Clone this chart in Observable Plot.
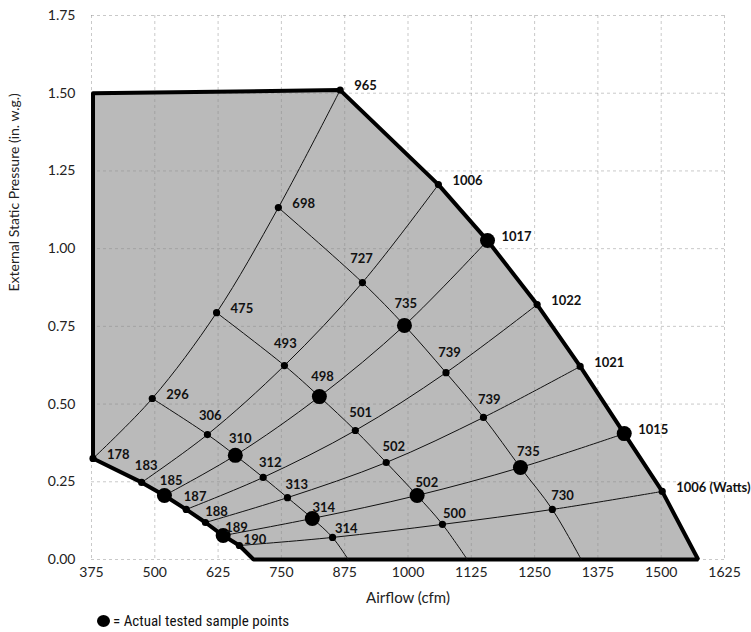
<!DOCTYPE html>
<html>
<head>
<meta charset="utf-8">
<script src="https://cdn.jsdelivr.net/npm/d3@7"></script>
<script src="https://cdn.jsdelivr.net/npm/@observablehq/plot@0.6"></script>
<style>
  body { margin: 0; background: white; }
  #legend { height: 22px; display: flex; align-items: center; margin-left: 97px;
    font: 15px "Liberation Sans Narrow", "Roboto Condensed", "Roboto", sans-serif; color: #111; }
  #legend .dot { width: 13px; height: 12px; border-radius: 50%; background: #000; margin-right: 3px; display: inline-block; }
</style>
</head>
<body>
<div id="chart"></div>
<div id="legend"><span class="dot"></span><span>= Actual tested sample points</span></div>
<script>
// Axis ticks
const xTicks = [375, 500, 625, 750, 875, 1000, 1125, 1250, 1375, 1500, 1625];
const yTicks = [0, 0.25, 0.5, 0.75, 1.0, 1.25, 1.5, 1.75];

// Operating points, by power column (each column has one point per system curve, top to bottom)
const col190Cfm   = [378, 474, 519, 562, 600, 635, 667];
const col190Esp   = [0.325, 0.248, 0.206, 0.161, 0.119, 0.077, 0.045];
const col190Watts = [178, 183, 185, 187, 188, 189, 190];

const col300Cfm   = [495, 604, 659, 714, 762, 811, 851];
const col300Esp   = [0.518, 0.402, 0.335, 0.264, 0.199, 0.132, 0.071];
const col300Watts = [296, 306, 310, 312, 313, 314, 314];

const col500Cfm   = [622, 756, 825, 896, 957, 1018, 1068];
const col500Esp   = [0.794, 0.624, 0.524, 0.415, 0.312, 0.206, 0.113];
const col500Watts = [475, 493, 498, 501, 502, 502, 500];

const col730Cfm   = [744, 910, 993, 1075, 1149, 1222, 1285];
const col730Esp   = [1.132, 0.891, 0.753, 0.601, 0.457, 0.296, 0.161];
const col730Watts = [698, 727, 735, 739, 739, 735, 730];

const col1000Cfm   = [866, 1060, 1157, 1255, 1340, 1427, 1502];
const col1000Esp   = [1.51, 1.206, 1.026, 0.820, 0.621, 0.405, 0.219];
const col1000Watts = [965, 1006, 1017, 1022, 1021, 1015, 1006];

// which system curves hold actual tested sample points
const testedCurve = [false, false, true, false, false, true, false];

// airflow where each power line meets 0.00 in. w.g.
const zeroCfm = [695, 882, 1117, 1342, 1573];
// top-left corner of the operating envelope
const topLeftCfm = 378, topLeftEsp = 1.50;

const cols = [
  {cfm: col190Cfm, esp: col190Esp, w: col190Watts},
  {cfm: col300Cfm, esp: col300Esp, w: col300Watts},
  {cfm: col500Cfm, esp: col500Esp, w: col500Watts},
  {cfm: col730Cfm, esp: col730Esp, w: col730Watts},
  {cfm: col1000Cfm, esp: col1000Esp, w: col1000Watts}
];

const points = [];
cols.forEach((c, j) => c.cfm.forEach((x, i) => points.push({x, y: c.esp[i], w: c.w[i], i, j, tested: testedCurve[i]})));

// envelope polygon
const envelope = [{x: topLeftCfm, y: topLeftEsp}];
col1000Cfm.forEach((x, i) => envelope.push({x, y: col1000Esp[i]}));
envelope.push({x: zeroCfm[4], y: 0});
envelope.push({x: zeroCfm[0], y: 0});
for (let i = 6; i >= 0; i--) envelope.push({x: col190Cfm[i], y: col190Esp[i]});
envelope.push({x: topLeftCfm, y: topLeftEsp});

// system curves
const sysLines = [];
for (let i = 0; i < 7; i++) cols.forEach(c => sysLines.push({x: c.cfm[i], y: c.esp[i], k: i}));
// constant power lines (interior)
const powLines = [];
for (let j = 1; j <= 3; j++) {
  cols[j].cfm.forEach((x, i) => powLines.push({x, y: cols[j].esp[i], k: j}));
  powLines.push({x: zeroCfm[j], y: 0, k: j});
}

const rightLabels = points.filter(p => p.i === 0 || p.j === 4);
const innerLabels = points.filter(p => !(p.i === 0 || p.j === 4));

const labelFont = "Lato, 'Open Sans', sans-serif";
const labelMarks = [
  Plot.text(rightLabels, {x: "x", y: "y",
    text: p => (p.j === 4 && p.i === 6) ? `${p.w} (Watts)` : `${p.w}`,
    textAnchor: "start", dx: 14, dy: -4, fontWeight: "bold", fontSize: 13, fill: "#111"})
];
innerLabels.forEach(p => {
  const dx = 7.35 + 2.2 * (p.i - 3.5) - 1.8 * (p.j - 1.5);
  const dy = -15 + 2.1 * (p.i - 3.5) - 2.5 * (p.j - 1.5);
  labelMarks.push(Plot.text([p], {x: "x", y: "y", text: d => `${d.w}`, textAnchor: "middle",
    dx, dy, fontWeight: "bold", fontSize: 13, fill: "#111"}));
});

const chart = Plot.plot({
  width: 751,
  height: 610,
  marginLeft: 91,
  marginRight: 27,
  marginTop: 15,
  marginBottom: 51,
  style: {fontFamily: labelFont, fontSize: "14px", background: "white", color: "#222"},
  x: {domain: [375, 1625], ticks: xTicks, tickSize: 0, tickPadding: 8, label: null, tickFormat: d => `${d}`},
  y: {domain: [0, 1.75], ticks: yTicks, tickSize: 0, tickPadding: 16, label: null, tickFormat: d3.format(".2f")},
  marks: [
    Plot.line(envelope, {x: "x", y: "y", fill: "#bababa", stroke: "none"}),
    Plot.ruleX(xTicks, {stroke: "#888", strokeOpacity: 0.45, strokeDasharray: "3,3"}),
    Plot.ruleY(yTicks, {stroke: "#888", strokeOpacity: 0.45, strokeDasharray: "3,3"}),
    Plot.line(envelope, {x: "x", y: "y", stroke: "#000", strokeWidth: 4, strokeLinejoin: "miter"}),
    Plot.line(sysLines, {x: "x", y: "y", z: "k", stroke: "#111", strokeWidth: 1, curve: "catmull-rom"}),
    Plot.line(powLines, {x: "x", y: "y", z: "k", stroke: "#111", strokeWidth: 1, curve: "catmull-rom"}),
    Plot.dot(points.filter(p => !p.tested), {x: "x", y: "y", r: 3.6, fill: "#000"}),
    Plot.dot(points.filter(p => p.tested), {x: "x", y: "y", r: 7.5, fill: "#000"}),
    ...labelMarks,
    Plot.text(["Airflow (cfm)"], {frameAnchor: "bottom", dy: 43, fontSize: 15, fill: "#222"}),
    Plot.text(["External Static Pressure (in. w.g.)"], {frameAnchor: "left", dx: -77, dy: 4, rotate: -90, fontSize: 14, fill: "#222"})
  ]
});
document.getElementById("chart").appendChild(chart);
</script>
</body>
</html>
